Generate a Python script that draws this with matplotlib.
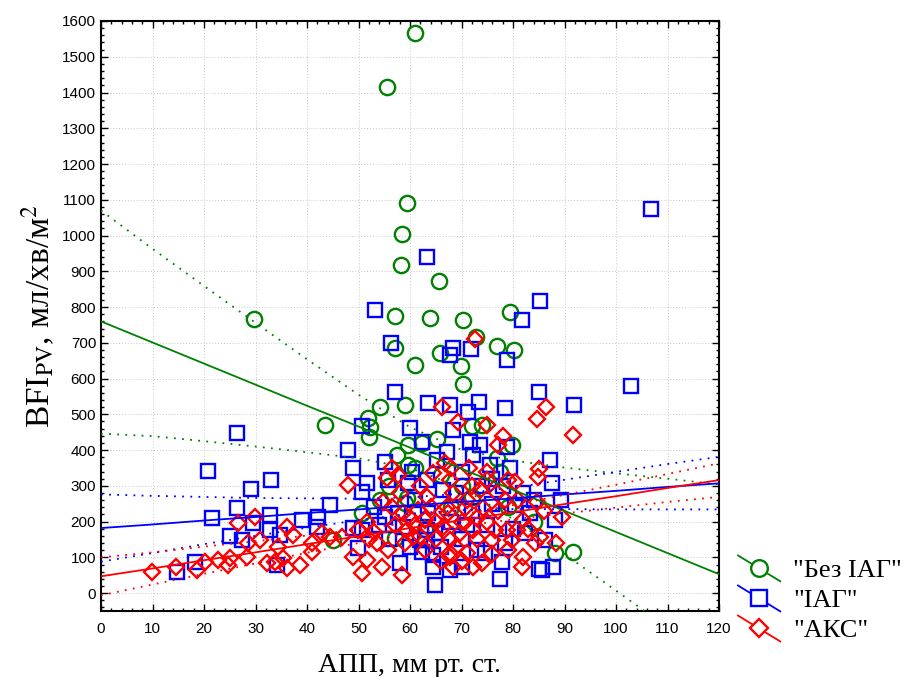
import numpy as np
import matplotlib
matplotlib.use("Agg")
import matplotlib.pyplot as plt
from matplotlib.lines import Line2D
from matplotlib.legend_handler import HandlerBase
from matplotlib.ticker import MultipleLocator

plt.rcParams['mathtext.fontset'] = 'stix'

# ---------------- data ----------------
group_labels = ['"Без ІАГ"', '"ІАГ"', '"АКС"']
group_colors = ['#008000', '#0000ff', '#ff0000']
group_markers = ['o', 's', 'D']

green_x = [61.0, 55.5, 59.4, 58.4, 58.3, 65.6, 29.7, 57.1, 63.9, 70.3, 79.4, 72.8, 80.2, 57.1, 76.9,
           61.0, 65.8, 70.3, 69.9, 59.0, 54.2, 51.8, 52.2, 52.0, 43.5, 59.6, 57.5, 62.3, 65.2, 61.0,
           54.2, 50.7, 45.0, 59.4, 59.0, 57.1, 59.6, 88.2, 91.7, 72.0, 74.0, 79.8, 76.9, 77.5, 70.0,
           66.0, 72.0, 56.0, 63.0, 68.0, 79.0, 84.0]
green_y = [1566, 1415, 1091, 1004, 917, 873, 766, 775, 769, 764, 786, 716, 680, 685, 691,
           638, 671, 585, 635, 526, 520, 489, 464, 436, 470, 414, 386, 420, 432, 350,
           260, 224, 148, 266, 252, 154, 358, 112, 115, 467, 470, 414, 378, 338, 300,
           330, 270, 300, 180, 240, 240, 200]

blue_x = [106.8, 102.9, 63.3, 53.2, 85.2, 81.7, 56.3, 68.3, 67.8, 71.8, 78.8, 85.0, 91.8, 87.2, 87.6,
          89.3, 77.5, 85.0, 87.8, 78.8, 78.4, 73.4, 67.8, 75.5, 79.4, 71.3, 73.6, 71.7, 72.2,
          26.4, 20.8, 29.1, 33.0, 26.4, 21.5, 32.8, 39.0, 44.5, 42.2, 41.9, 25.0, 27.4, 29.5, 32.8,
          34.8, 18.3, 14.7, 34.1, 48.0, 49.0, 50.6, 51.6, 50.6, 49.0, 49.9, 50.6, 55.1, 55.8, 57.1,
          60.0, 60.4, 59.6, 62.3, 63.5, 63.3, 58.1, 64.5, 64.5, 64.9, 62.3, 68.3, 67.2, 65.2, 66.4,
          63.5, 57.7, 55.1, 63.3, 64.9, 62.9, 58.6, 62.0, 67.8, 70.0, 85.6, 88.2, 82.3, 86.2, 77.9,
          74.6, 78.4, 80.4, 83.3, 70.0, 74.0, 76.0, 72.0, 68.0, 75.0, 80.0, 70.0, 73.0, 66.0, 78.0,
          82.0, 84.0, 61.0, 69.0, 76.0, 71.0, 60.0, 56.0, 53.0, 54.0]
blue_y = [1074, 579, 940, 792, 817, 764, 699, 685, 666, 682, 652, 562, 526, 372, 308,
          260, 39, 67, 73, 408, 517, 535, 526, 358, 349, 506, 414, 422, 386,
          447, 341, 290, 316, 237, 209, 218, 204, 246, 213, 185, 159, 148, 196, 176,
          162, 87, 59, 78, 400, 349, 283, 307, 467, 182, 126, 176, 366, 316, 563,
          461, 339, 307, 422, 531, 316, 84, 106, 73, 22, 115, 456, 394, 372, 288,
          224, 224, 213, 176, 168, 148, 185, 148, 64, 73, 64, 204, 168, 148, 87,
          112, 140, 246, 224, 340, 300, 250, 230, 200, 190, 180, 150, 120, 130, 300,
          280, 260, 260, 280, 320, 190, 130, 150, 240, 190]

red_x = [9.9, 14.5, 18.6, 20.2, 22.8, 24.7, 26.6, 29.9, 28.5, 30.9, 34.4, 28.3, 25.0, 36.1, 37.3,
         41.0, 41.0, 38.6, 36.1, 32.2, 33.8, 35.3, 42.9, 44.5, 46.8, 47.9, 48.9, 50.6, 51.6, 51.6,
         49.9, 54.5, 55.8, 53.6, 54.8, 56.5, 55.5, 56.5, 57.7, 58.6, 59.4, 59.0, 58.4, 60.6, 61.6,
         62.9, 63.3, 64.5, 66.2, 66.8, 67.8, 68.3, 67.2, 66.4, 67.8, 67.8, 68.3, 69.3,
         72.6, 84.7, 86.4, 91.7, 74.9, 78.1, 77.1, 85.0, 84.9, 89.5, 84.7, 81.7, 88.3, 85.2, 84.3,
         80.8, 79.0, 80.4, 74.9, 73.6, 71.5, 78.4, 76.9, 72.2, 71.1, 69.7, 72.2, 76.5, 78.8, 74.2,
         70.7, 67.4, 67.8, 75.9, 79.8, 81.9, 81.0, 74.0,
         70.0, 73.0, 75.0, 77.0, 71.0, 65.0, 63.0, 61.0, 64.0, 69.0, 73.0, 76.0, 79.0, 82.0, 83.0,
         86.0, 70.0, 66.0, 62.0, 57.0, 53.0, 52.0, 60.0, 65.0, 72.0, 75.0, 68.0, 62.0, 58.0]
red_y = [59, 73, 64, 87, 92, 78, 196, 213, 140, 148, 129, 101, 98, 185, 162,
         140, 115, 78, 70, 84, 87, 98, 168, 157, 157, 302, 101, 56, 92, 199,
         176, 73, 120, 140, 255, 241, 322, 349, 330, 224, 176, 140, 50, 157, 232,
         204, 269, 336, 520, 363, 316, 280, 241, 185, 148, 101, 73, 478,
         710, 487, 521, 442, 470, 439, 414, 347, 325, 213, 255, 73, 140, 157, 140,
         176, 316, 311, 316, 288, 349, 260, 280, 73, 112, 168, 176, 176, 176, 238,
         238, 224, 112, 148, 148, 204, 260, 84,
         200, 210, 200, 230, 260, 150, 120, 190, 240, 130, 150, 110, 120, 100, 180,
         230, 90, 90, 160, 190, 170, 150, 210, 200, 300, 340, 350, 300, 280]

# regression lines and 95% bands
band_x = [0, 10, 20, 30, 40, 50, 60, 70, 80, 90, 100, 110, 120]
green_fit = [760, 701, 642, 583, 524, 466, 407, 348, 289, 230, 171, 112, 53]
green_hi = [1070, 963, 859, 756, 654, 555, 464, 401, 371, 351, 335, 320, 304]
green_lo = [446, 439, 425, 410, 394, 377, 350, 295, 207, 109, 7, -96, -200]
blue_fit = [182, 192, 203, 213, 224, 234, 245, 255, 265, 276, 286, 297, 307]
blue_hi = [276, 272, 269, 266, 265, 264, 268, 278, 295, 317, 339, 361, 381]
blue_lo = [88, 112, 137, 160, 183, 204, 222, 232, 235, 235, 234, 234, 234]
red_fit = [47, 69, 92, 114, 137, 159, 182, 204, 226, 249, 271, 294, 316]
red_hi = [100, 114, 130, 145, 161, 178, 197, 220, 246, 275, 303, 333, 363]
red_lo = [-6, 24, 54, 83, 113, 140, 167, 188, 206, 223, 239, 255, 269]

x_label = 'АПП, мм рт. ст.'
y_label = r'BFI$_{\mathrm{PV}}$, мл/хв/м$^{2}$'

# ---------------- plot ----------------
W, H = 907, 677
fig = plt.figure(figsize=(W / 100, H / 100), dpi=100)
ax = fig.add_axes([101 / W, (H - 611) / H, 618 / W, 590 / H])

serif = ['Liberation Serif', 'DejaVu Serif']
sans = ['Liberation Sans', 'DejaVu Sans']

xs_list = [green_x, blue_x, red_x]
ys_list = [green_y, blue_y, red_y]
fits = [green_fit, blue_fit, red_fit]
his = [green_hi, blue_hi, red_hi]
los = [green_lo, blue_lo, red_lo]
msizes = [11, 10.5, 8.5]

for i in range(3):
    ax.plot(xs_list[i], ys_list[i], linestyle='none', marker=group_markers[i],
            mfc='none', mec=group_colors[i], ms=msizes[i], mew=1.7, zorder=3 + i)

for i in range(3):
    c = group_colors[i]
    ax.plot(band_x, fits[i], color=c, lw=1.3, zorder=7)
    ax.plot(band_x, his[i], color=c, lw=1.3, ls=(0, (1, 3.5)), zorder=7)
    ax.plot(band_x, los[i], color=c, lw=1.3, ls=(0, (1, 3.5)), zorder=7)

ax.set_xlim(0, 120)
ax.set_ylim(-50, 1600)
ax.xaxis.set_major_locator(MultipleLocator(10))
ax.xaxis.set_minor_locator(MultipleLocator(2))
ax.yaxis.set_major_locator(MultipleLocator(100))
ax.yaxis.set_minor_locator(MultipleLocator(20))
ax.tick_params(which='both', direction='in', top=True, right=True, labelsize=11,
               width=1.0, colors='black')
ax.tick_params(which='major', length=5)
ax.tick_params(which='minor', length=2.5)
for lab in ax.get_xticklabels() + ax.get_yticklabels():
    lab.set_fontfamily(sans)
ax.tick_params(axis='x', pad=8)
ax.grid(True, which='major', color='#c8c8c8', ls=(0, (1, 2)), lw=0.7)
ax.set_axisbelow(True)
for sp in ax.spines.values():
    sp.set_linewidth(1.5)

ax.set_xlabel(x_label, fontsize=20, family=serif, labelpad=12)
ax.set_ylabel(y_label, fontsize=24, family=serif, labelpad=4)


class DiagHandler(HandlerBase):
    def create_artists(self, legend, orig, xd, yd, width, height, fontsize, trans):
        x0, x1 = -xd, -xd + width
        y0, y1 = -yd + height * 1.15, -yd - height * 0.25
        ln = Line2D([x0, x1], [y0, y1], color=orig.get_color(), lw=1.3)
        mk = Line2D([(x0 + x1) / 2], [(y0 + y1) / 2], marker=orig.get_marker(),
                    ms=orig.get_markersize(), mfc='white', mec=orig.get_color(),
                    mew=1.7, ls='none')
        ln.set_transform(trans)
        mk.set_transform(trans)
        return [ln, mk]


handles = [Line2D([], [], color=group_colors[i], marker=group_markers[i],
                  ms=msizes[i] + 1) for i in range(3)]
fig.legend(handles, group_labels, handler_map={Line2D: DiagHandler()},
           loc='center left', bbox_to_anchor=(738 / W, (H - 600) / H),
           frameon=False, prop={'family': serif, 'size': 19},
           handlelength=1.6, handletextpad=0.5, labelspacing=0.25,
           borderaxespad=0, borderpad=0)

fig.savefig('out.png', dpi=100)
